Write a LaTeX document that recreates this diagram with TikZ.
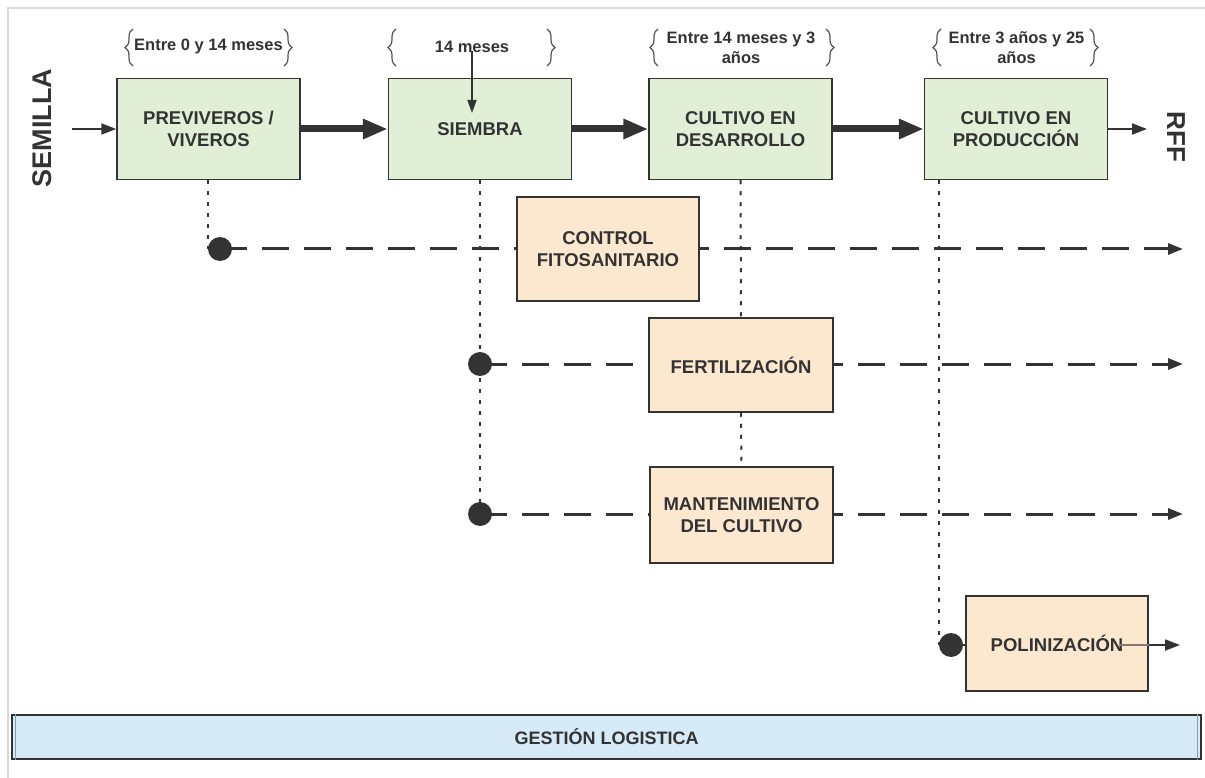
\documentclass[tikz,border=0pt]{standalone}
\usepackage{fontspec}
\usepackage{graphicx}
\setmainfont{Liberation Sans}
\usetikzlibrary{arrows.meta,decorations.pathreplacing,backgrounds}

\definecolor{ink}{HTML}{333333}
\definecolor{greenfill}{HTML}{E0EFD5}
\definecolor{peachfill}{HTML}{FCE7CF}
\definecolor{bluefill}{HTML}{D6EAF8}
\definecolor{framegray}{HTML}{D9D9D9}
\definecolor{barinner}{HTML}{8C9BA8}

\tikzset{
  stage/.style={draw=ink, line width=1.5pt, fill=greenfill, minimum width=183pt,
    minimum height=101pt, align=center, inner sep=0pt, text=ink,
    font=\bfseries\fontsize{18.5}{22}\selectfont},
  task/.style={stage, fill=peachfill},
  period/.style={align=center, inner sep=0pt, text=ink,
    font=\bfseries\fontsize{16.5}{20}\selectfont},
  dotnode/.style={circle, fill=ink, minimum size=24pt, inner sep=0pt},
  flow/.style={line width=7pt, draw=ink, -{Triangle[length=25pt,width=19pt]}},
  thinflow/.style={line width=2pt, draw=ink, -{Triangle[length=15pt,width=11pt]}},
  branch/.style={line width=3pt, draw=ink, dash pattern=on 27pt off 15pt,
    -{Triangle[length=15pt,width=11pt]}},
  guide/.style={line width=2pt, draw=ink, dash pattern=on 4pt off 7pt},
  bracel/.style={decorate, decoration={brace, amplitude=8pt}, line width=1.2pt, draw=ink!85},
}

\begin{document}
\begin{tikzpicture}[x=1pt, y=-1pt]
\useasboundingbox (0,0) rectangle (1205,778);

% outer frame
\draw[framegray, line width=2.5pt] (1205,8) -- (8,8) -- (8,778);

% main stages
\node[stage] (b1) at (208.5,129) {PREVIVEROS /\\VIVEROS};
\node[stage] (b2) at (480,129) {SIEMBRA};
\node[stage] (b3) at (740.5,129) {CULTIVO EN\\DESARROLLO};
\node[stage] (b4) at (1016,129) {CULTIVO EN\\PRODUCCIÓN};

% support tasks
\node[task, minimum width=182pt, minimum height=104pt] (o1) at (608,249) {CONTROL\\FITOSANITARIO};
\node[task, minimum width=184pt, minimum height=94pt] (o2) at (741,365) {FERTILIZACIÓN};
\node[task, minimum width=183pt, minimum height=96pt] (o3) at (741.5,515) {MANTENIMIENTO\\DEL CULTIVO};
\node[task, minimum width=182pt, minimum height=95pt] (o4) at (1057,643.5) {POLINIZACIÓN};

% start points of the support lines
\node[dotnode] (d1) at (220,249) {};
\node[dotnode] (d2) at (480,364) {};
\node[dotnode] (d3) at (480,514) {};
\node[dotnode] (d4) at (951,645) {};

\coordinate (e1) at (1183,249);
\coordinate (e2) at (1183,364);
\coordinate (e3) at (1183,514);
\coordinate (e4) at (1180,645);

\begin{scope}[on background layer]
  \draw[guide] (b1.south -| d1.west) -- (d1.west);
  \draw[guide] (b2.south) -- (d2.center) -- (d3.center);
  \draw[guide] (b3.south) -- (o2.north);
  \draw[guide] (o2.south) -- (o3.north);
  \draw[guide] (b4.south -| d4.west) -- (d4.west);
  \draw[branch] (d1.center) -- (e1);
  \draw[branch] (d2.center) -- (e2);
  \draw[branch] (d3.center) -- (e3);
  \draw[line width=2pt, ink] (d4.center) -- (o4.west |- d4.center);
\end{scope}
\draw[line width=2pt, ink!60!peachfill] (1120,645) -- (o4.east |- d4.center);
\draw[thinflow] (o4.east |- d4.center) -- (e4);

% period labels
\node[period] (t1) at (208.5,46) {Entre 0 y 14 meses};
\node[period] (t2) at (472,47) {14 meses};
\node[period] (t3) at (741,48) {Entre 14 meses y 3\\años};
\node[period] (t4) at (1016.5,48) {Entre 3 años y 25\\años};

\draw[bracel] (133,66) -- (133,29);
\draw[bracel] (284,29) -- (284,66);
\draw[bracel] (396,66) -- (396,29);
\draw[bracel] (547,29) -- (547,66);
\draw[bracel] (658,66) -- (658,29);
\draw[bracel] (826,29) -- (826,66);
\draw[bracel] (941,66) -- (941,29);
\draw[bracel] (1090,29) -- (1090,66);

\coordinate (k1) at (472,113);
\draw[thinflow, -{Triangle[length=13pt,width=9pt]}, line width=1.6pt] (472,51) -- (k1);

% end labels
\node[text=ink, font=\bfseries\fontsize{27}{27}\selectfont, rotate=90] (seed) at (42,128) {SEMILLA};
\node[text=ink, font=\bfseries\fontsize{26}{26}\selectfont, rotate=-90] (rff) at (1176,137) {RFF};
\coordinate (s0) at (72,129);
\coordinate (r0) at (1147,129);
\draw[thinflow] (s0) -- (b1.west);
\draw[thinflow] (b4.east) -- (r0);

% main flow
\draw[flow] (b1.east) -- (b2.west);
\draw[flow] (b2.east) -- (b3.west);
\draw[flow] (b3.east) -- (b4.west);

% logistics bar
\node[draw=ink, line width=1.2pt, fill=bluefill, minimum width=1189pt, minimum height=44pt,
  inner sep=0pt, text=ink, font=\bfseries\fontsize{18}{20}\selectfont] (proc) at (606.5,737) {GESTIÓN LOGISTICA};
\draw[barinner, line width=1.2pt] ([xshift=4pt]proc.north west) -- ([xshift=4pt]proc.south west);
\draw[barinner, line width=1.2pt] ([xshift=-4pt]proc.north east) -- ([xshift=-4pt]proc.south east);
\end{tikzpicture}
\end{document}
